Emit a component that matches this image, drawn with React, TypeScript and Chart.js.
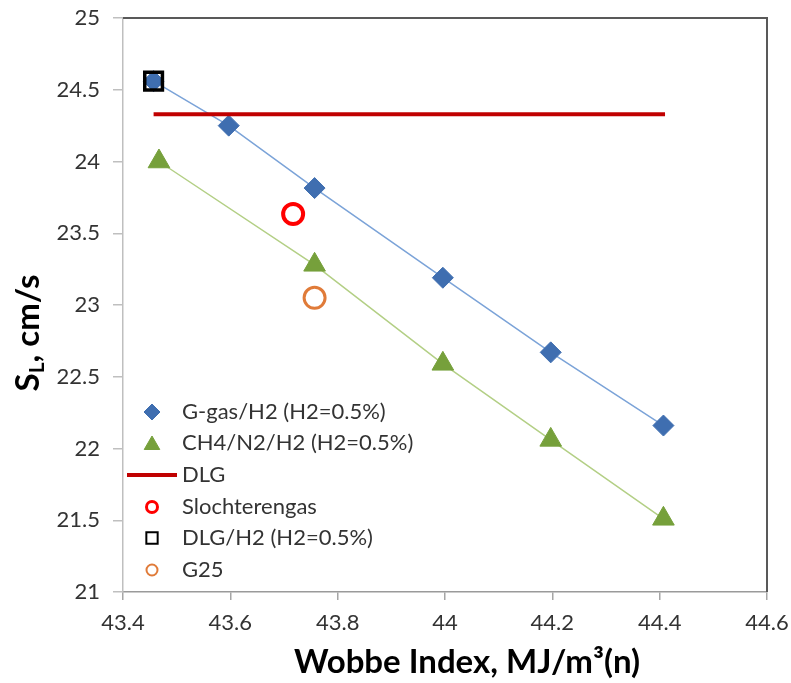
import React, { useEffect, useRef } from 'react';
import { Chart, registerables } from 'chart.js';
import { drawPoint } from 'chart.js/helpers';

Chart.register(...registerables);

const FONT = 'Lato, "Open Sans", sans-serif';

// Data
const gGasX = [43.457, 43.597, 43.757, 43.996, 44.197, 44.407];
const gGasY = [24.56, 24.25, 23.815, 23.19, 22.67, 22.16];
const ch4X = [43.467, 43.757, 43.996, 44.197, 44.407];
const ch4Y = [24.0, 23.28, 22.59, 22.06, 21.51];
const dlgX = [43.457, 44.41];
const dlgY = [24.33, 24.33];
const slochX = [43.717];
const slochY = [23.634];
const dlgH2X = [43.457];
const dlgH2Y = [24.56];
const g25X = [43.757];
const g25Y = [23.05];

const seriesNames = [
  'G-gas/H2 (H2=0.5%)',
  'CH4/N2/H2 (H2=0.5%)',
  'DLG',
  'Slochterengas',
  'DLG/H2 (H2=0.5%)',
  'G25',
];

const xMin = 43.4;
const xMax = 44.6;
const xStep = 0.2;
const yMin = 21;
const yMax = 25;
const yStep = 0.5;
const xTitle = 'Wobbe Index, MJ/m\u00B3(n)';
const yTitleMain = 'S';
const yTitleSub = 'L';
const yTitleRest = ', cm/s';

const pts = (xs: number[], ys: number[]) => xs.map((x, i) => ({ x, y: ys[i] }));

const C_BLUE = '#3f6eb0';
const C_BLUE_LINE = '#7ba3d8';
const C_GREEN = '#76a03b';
const C_GREEN_LINE = '#b3cf85';
const C_DLG = '#c00000';
const C_RED = '#ff0000';
const C_ORANGE = '#e07b39';

const overlay = {
  id: 'overlay',
  afterDraw(chart: any) {
    const ctx: CanvasRenderingContext2D = chart.ctx;
    const a = chart.chartArea;
    ctx.save();
    // top / right frame
    ctx.strokeStyle = '#595959';
    ctx.lineWidth = 2;
    ctx.beginPath();
    ctx.moveTo(a.left, a.top);
    ctx.lineTo(a.right, a.top);
    ctx.lineTo(a.right, a.bottom);
    ctx.stroke();

    // legend
    const rows = [412, 443, 475, 507, 538, 570];
    const mx = 152;
    const tx = 182;
    ctx.font = `22px ${FONT}`;
    ctx.fillStyle = '#333333';
    ctx.textAlign = 'left';
    ctx.textBaseline = 'middle';
    seriesNames.forEach((name, i) => {
      const y = rows[i];
      ctx.save();
      if (i === 0) {
        ctx.fillStyle = C_BLUE; ctx.strokeStyle = C_BLUE; ctx.lineWidth = 1;
        drawPoint(ctx, { pointStyle: 'rectRot', radius: 8, rotation: 0, borderWidth: 1 } as any, mx, y);
      } else if (i === 1) {
        ctx.fillStyle = C_GREEN; ctx.strokeStyle = C_GREEN; ctx.lineWidth = 1;
        drawPoint(ctx, { pointStyle: 'triangle', radius: 9, rotation: 0, borderWidth: 1 } as any, mx, y + 2);
      } else if (i === 2) {
        ctx.strokeStyle = C_DLG; ctx.lineWidth = 4;
        ctx.beginPath(); ctx.moveTo(127, y); ctx.lineTo(177, y); ctx.stroke();
      } else if (i === 3) {
        ctx.fillStyle = 'rgba(0,0,0,0)'; ctx.strokeStyle = C_RED; ctx.lineWidth = 3;
        drawPoint(ctx, { pointStyle: 'circle', radius: 5.5, rotation: 0, borderWidth: 3 } as any, mx, y);
      } else if (i === 4) {
        ctx.fillStyle = 'rgba(0,0,0,0)'; ctx.strokeStyle = '#000'; ctx.lineWidth = 2;
        drawPoint(ctx, { pointStyle: 'rect', radius: 8, rotation: 0, borderWidth: 2 } as any, mx, y);
      } else {
        ctx.fillStyle = 'rgba(0,0,0,0)'; ctx.strokeStyle = C_ORANGE; ctx.lineWidth = 2;
        drawPoint(ctx, { pointStyle: 'circle', radius: 5.5, rotation: 0, borderWidth: 2 } as any, mx, y);
      }
      ctx.restore();
      ctx.fillText(name, tx, y);
    });

    // x title
    ctx.font = `bold 33px ${FONT}`;
    ctx.fillStyle = '#000';
    ctx.textAlign = 'center';
    ctx.textBaseline = 'middle';
    ctx.fillText(xTitle, 467, 662);

    // y title (rotated, with subscript)
    ctx.translate(28, 333);
    ctx.rotate(-Math.PI / 2);
    const mainFont = `bold 33px ${FONT}`;
    const subFont = `bold 21px ${FONT}`;
    ctx.font = mainFont;
    const w1 = ctx.measureText(yTitleMain).width;
    const w3 = ctx.measureText(yTitleRest).width;
    ctx.font = subFont;
    const w2 = ctx.measureText(yTitleSub).width;
    const total = w1 + w2 + w3;
    let x0 = -total / 2;
    ctx.textAlign = 'left';
    ctx.textBaseline = 'alphabetic';
    const base = 11;
    ctx.font = mainFont;
    ctx.fillText(yTitleMain, x0, base);
    x0 += w1;
    ctx.font = subFont;
    ctx.fillText(yTitleSub, x0, base + 5);
    x0 += w2;
    ctx.font = mainFont;
    ctx.fillText(yTitleRest, x0, base);
    ctx.restore();
  },
};

export default function App() {
  const ref = useRef<HTMLCanvasElement>(null);
  useEffect(() => {
    if (!ref.current) return;
    const fmt = (v: any) => String(Number(Number(v).toFixed(1)));
    const chart = new Chart(ref.current, {
      type: 'scatter',
      data: {
        datasets: [
          {
            label: seriesNames[0],
            data: pts(gGasX, gGasY),
            showLine: true,
            borderColor: C_BLUE_LINE,
            borderWidth: 1.5,
            pointStyle: 'rectRot',
            pointRadius: 10.5,
            pointBackgroundColor: C_BLUE,
            pointBorderColor: C_BLUE,
            pointBorderWidth: 1,
            order: 5,
          },
          {
            label: seriesNames[1],
            data: pts(ch4X, ch4Y),
            showLine: true,
            borderColor: C_GREEN_LINE,
            borderWidth: 1.5,
            pointStyle: 'triangle',
            pointRadius: 12.5,
            pointBackgroundColor: C_GREEN,
            pointBorderColor: C_GREEN,
            pointBorderWidth: 1,
            order: 4,
          },
          {
            label: seriesNames[2],
            data: pts(dlgX, dlgY),
            showLine: true,
            borderColor: C_DLG,
            borderWidth: 4,
            pointRadius: 0,
            order: 3,
          },
          {
            label: seriesNames[3],
            data: pts(slochX, slochY),
            pointStyle: 'circle',
            pointRadius: 10,
            pointBackgroundColor: 'rgba(0,0,0,0)',
            pointBorderColor: C_RED,
            pointBorderWidth: 4,
            order: 2,
          },
          {
            label: seriesNames[4],
            data: pts(dlgH2X, dlgH2Y),
            pointStyle: 'rect',
            pointRadius: 12.5,
            pointBackgroundColor: 'rgba(0,0,0,0)',
            pointBorderColor: '#000000',
            pointBorderWidth: 3.5,
            order: 1,
          },
          {
            label: seriesNames[5],
            data: pts(g25X, g25Y),
            pointStyle: 'circle',
            pointRadius: 10.5,
            pointBackgroundColor: 'rgba(0,0,0,0)',
            pointBorderColor: C_ORANGE,
            pointBorderWidth: 3,
            order: 0,
          },
        ],
      },
      options: {
        animation: false,
        responsive: false,
        devicePixelRatio: 1,
        layout: { padding: { left: 0, top: 18, right: 24, bottom: 0 } },
        plugins: { legend: { display: false }, tooltip: { enabled: false } },
        scales: {
          x: {
            type: 'linear',
            min: xMin,
            max: xMax,
            ticks: {
              stepSize: xStep,
              font: { family: FONT, size: 22 },
              color: '#333333',
              padding: 10,
              callback: fmt,
            },
            grid: { drawOnChartArea: false, drawTicks: true, tickLength: 8, color: '#a6a6a6', lineWidth: 1.5 },
            border: { color: '#9a9a9a', width: 1.5 },
            afterFit: (s: any) => {
              s.height = 91;
              s.paddingLeft = 0; s.paddingRight = 0; s.paddingTop = 0; s.paddingBottom = 0;
            },
          },
          y: {
            type: 'linear',
            min: yMin,
            max: yMax,
            ticks: {
              stepSize: yStep,
              font: { family: FONT, size: 22 },
              color: '#333333',
              padding: 13,
              callback: fmt,
            },
            grid: { drawOnChartArea: false, drawTicks: true, tickLength: 10, color: '#bfbfbf', lineWidth: 1.5 },
            border: { color: '#bfbfbf', width: 1.5 },
            afterFit: (s: any) => {
              s.width = 123;
              s.paddingLeft = 0; s.paddingRight = 0; s.paddingTop = 0; s.paddingBottom = 0;
            },
          },
        },
      } as any,
      plugins: [overlay],
    });
    return () => chart.destroy();
  }, []);
  return (
    <div style={{ position: 'fixed', left: 0, top: 0, width: 791, height: 683, background: '#fff' }}>
      <canvas ref={ref} width={791} height={683} />
    </div>
  );
}
